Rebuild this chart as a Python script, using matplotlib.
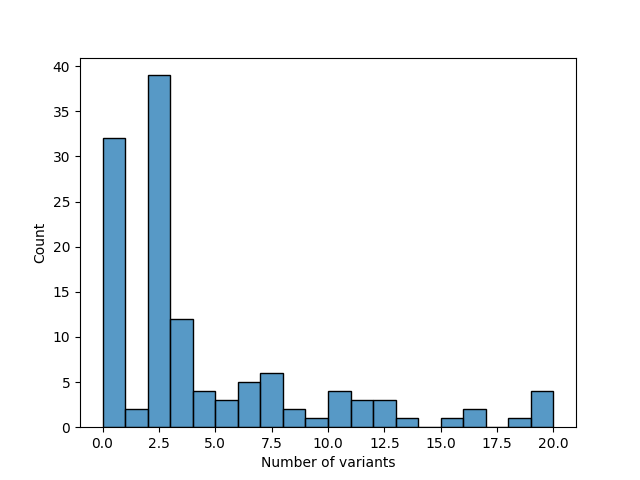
import matplotlib
matplotlib.use("Agg")
import matplotlib.pyplot as plt
import seaborn as sns
import numpy as np

# histogram bins (width 1 from 0 to 20) and counts
bin_edges = list(range(0, 21))
counts = [32, 2, 39, 12, 4, 3, 5, 6, 2, 1, 4, 3, 3, 1, 0, 1, 2, 0, 1, 4]

centers = [e + 0.5 for e in bin_edges[:-1]]

fig, ax = plt.subplots(figsize=(6.4, 4.8), dpi=100)
sns.histplot(x=centers, weights=counts, bins=bin_edges, ax=ax)

ax.set_xlabel("Number of variants")
ax.set_ylabel("Count")

fig.savefig("out.png")
